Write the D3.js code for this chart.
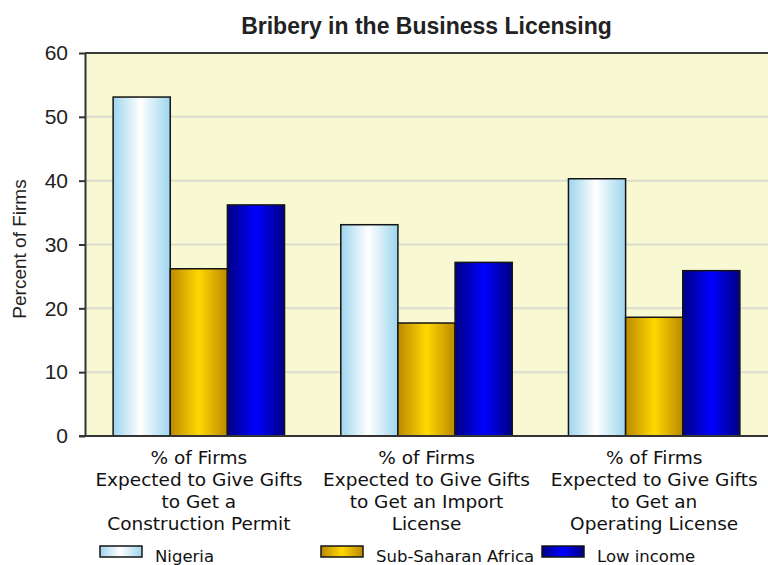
<!DOCTYPE html>
<html>
<head>
<meta charset="utf-8">
<script src="https://cdn.jsdelivr.net/npm/d3@7"></script>
<style>
  body { margin: 0; background: #fff; }
  svg { display: block; }
</style>
</head>
<body>
<div id="chart"></div>
<script>
// chart data
var chartTitle = "Bribery in the Business Licensing";
var yTitle = "Percent of Firms";
var categories = ["Construction Permit", "Import License", "Operating License"];
var categoryLines = [
  ["% of Firms", "Expected to Give Gifts", "to Get a", "Construction Permit"],
  ["% of Firms", "Expected to Give Gifts", "to Get an Import", "License"],
  ["% of Firms", "Expected to Give Gifts", "to Get an", "Operating License"]
];
var seriesNames = ["Nigeria", "Sub-Saharan Africa", "Low income"];
var nigeria = [53.1, 33.1, 40.3];
var subSaharan = [26.2, 17.7, 18.6];
var lowIncome = [36.2, 27.2, 25.9];
var yTicks = [0, 10, 20, 30, 40, 50, 60];

var seriesValues = [nigeria, subSaharan, lowIncome];

// gradient stops per series (edge, centre)
var gradStops = [
  [["0%", "#9dd5ee"], ["48%", "#ffffff"], ["100%", "#9dd5ee"]],
  [["0%", "#bb8800"], ["50%", "#ffd800"], ["100%", "#bb8800"]],
  [["0%", "#000084"], ["50%", "#0000ff"], ["100%", "#000084"]]
];

var W = 768, H = 565;
var plot = {left: 85, right: 768, top: 53, bottom: 436};

var svg = d3.select("#chart").append("svg")
    .attr("width", W)
    .attr("height", H);

var defs = svg.append("defs");
gradStops.forEach(function(stops, i) {
  var g = defs.append("linearGradient")
      .attr("id", "grad" + i)
      .attr("x1", "0%").attr("x2", "100%")
      .attr("y1", "0%").attr("y2", "0%");
  stops.forEach(function(s) {
    g.append("stop").attr("offset", s[0]).attr("stop-color", s[1]);
  });
});

// scales
var x0 = d3.scaleBand()
    .domain(categories)
    .range([plot.left, plot.right])
    .paddingInner(0.247)
    .paddingOuter(0.1235);

var x1 = d3.scaleBand()
    .domain(seriesNames)
    .range([0, x0.bandwidth()]);

var y = d3.scaleLinear()
    .domain([0, 60])
    .range([plot.bottom, plot.top]);

// plot background
svg.append("rect")
   .attr("x", plot.left)
   .attr("y", plot.top)
   .attr("width", plot.right - plot.left)
   .attr("height", plot.bottom - plot.top)
   .attr("fill", "#f8f8d2");

// gridlines
svg.append("g")
   .selectAll("line")
   .data(yTicks.filter(function(t) { return t > 0 && t < 60; }))
   .enter()
   .append("line")
     .attr("x1", plot.left)
     .attr("x2", plot.right)
     .attr("y1", function(d) { return y(d); })
     .attr("y2", function(d) { return y(d); })
     .attr("stroke", "#dcdcd0")
     .attr("stroke-width", 2);

// top border
svg.append("line")
   .attr("x1", plot.left).attr("x2", plot.right)
   .attr("y1", y(60)).attr("y2", y(60))
   .attr("stroke", "#3a3a3a")
   .attr("stroke-width", 2);

// bars
var groups = svg.append("g")
   .selectAll("g")
   .data(categories)
   .enter()
   .append("g")
     .attr("transform", function(d) { return "translate(" + x0(d) + ",0)"; });

groups.selectAll("rect")
   .data(function(d, ci) {
     return seriesNames.map(function(s, si) {
       return {series: s, si: si, value: seriesValues[si][ci]};
     });
   })
   .enter()
   .append("rect")
     .attr("x", function(d) { return x1(d.series); })
     .attr("y", function(d) { return y(d.value); })
     .attr("width", x1.bandwidth())
     .attr("height", function(d) { return y(0) - y(d.value); })
     .attr("fill", function(d) { return "url(#grad" + d.si + ")"; })
     .attr("stroke", "#151515")
     .attr("stroke-width", 1.5);

// y axis
var yAxis = svg.append("g")
   .attr("transform", "translate(" + plot.left + ",0)")
   .call(d3.axisLeft(y).tickValues(yTicks).tickSize(6).tickPadding(11).tickSizeOuter(0));
yAxis.select(".domain").attr("stroke", "#333").attr("stroke-width", 2);
yAxis.selectAll(".tick line").attr("stroke", "#333").attr("stroke-width", 2);
yAxis.selectAll(".tick text")
   .style("font-family", "'Liberation Sans', Arial, sans-serif")
   .style("font-size", "21px")
   .attr("fill", "#222");

// x axis baseline
svg.append("line")
   .attr("x1", plot.left - 6).attr("x2", plot.right)
   .attr("y1", y(0)).attr("y2", y(0))
   .attr("stroke", "#333")
   .attr("stroke-width", 2);

// category labels
var xAxis = svg.append("g")
   .attr("transform", "translate(0," + plot.bottom + ")")
   .call(d3.axisBottom(x0).tickSize(0).tickFormat(""));
xAxis.select(".domain").remove();

xAxis.selectAll(".tick text").remove();
xAxis.selectAll(".tick")
   .append("text")
     .attr("text-anchor", "middle")
     .attr("fill", "#111")
     .style("font-family", "'DejaVu Sans', Verdana, sans-serif")
     .style("font-size", "18.5px")
     .each(function(d, i) {
       var t = d3.select(this);
       categoryLines[i].forEach(function(line, li) {
         t.append("tspan")
          .attr("x", 0)
          .attr("y", 28 + li * 22)
          .text(line);
       });
     });

// y title
svg.append("text")
   .attr("transform", "translate(26," + 249 + ") rotate(-90)")
   .attr("text-anchor", "middle")
   .style("font-family", "'Liberation Sans', Arial, sans-serif")
   .style("font-size", "19px")
   .attr("fill", "#222")
   .text(yTitle);

// title
svg.append("text")
   .attr("x", (plot.left + plot.right) / 2)
   .attr("y", 34)
   .attr("text-anchor", "middle")
   .style("font-family", "'Liberation Sans', Arial, sans-serif")
   .style("font-size", "23px")
   .style("font-weight", "bold")
   .attr("fill", "#222")
   .text(chartTitle);

// legend
var legend = svg.append("g")
   .selectAll("g")
   .data(seriesNames)
   .enter()
   .append("g")
     .attr("transform", function(d, i) { return "translate(" + (100 + i * 221) + ",546)"; });

legend.append("rect")
   .attr("width", 42)
   .attr("height", 11)
   .attr("fill", function(d, i) { return "url(#grad" + i + ")"; })
   .attr("stroke", "#151515")
   .attr("stroke-width", 1.5);

legend.append("text")
   .attr("x", 55)
   .attr("y", 16)
   .style("font-family", "'DejaVu Sans', Verdana, sans-serif")
   .style("font-size", "16.5px")
   .attr("fill", "#111")
   .text(function(d) { return d; });
</script>
</body>
</html>
